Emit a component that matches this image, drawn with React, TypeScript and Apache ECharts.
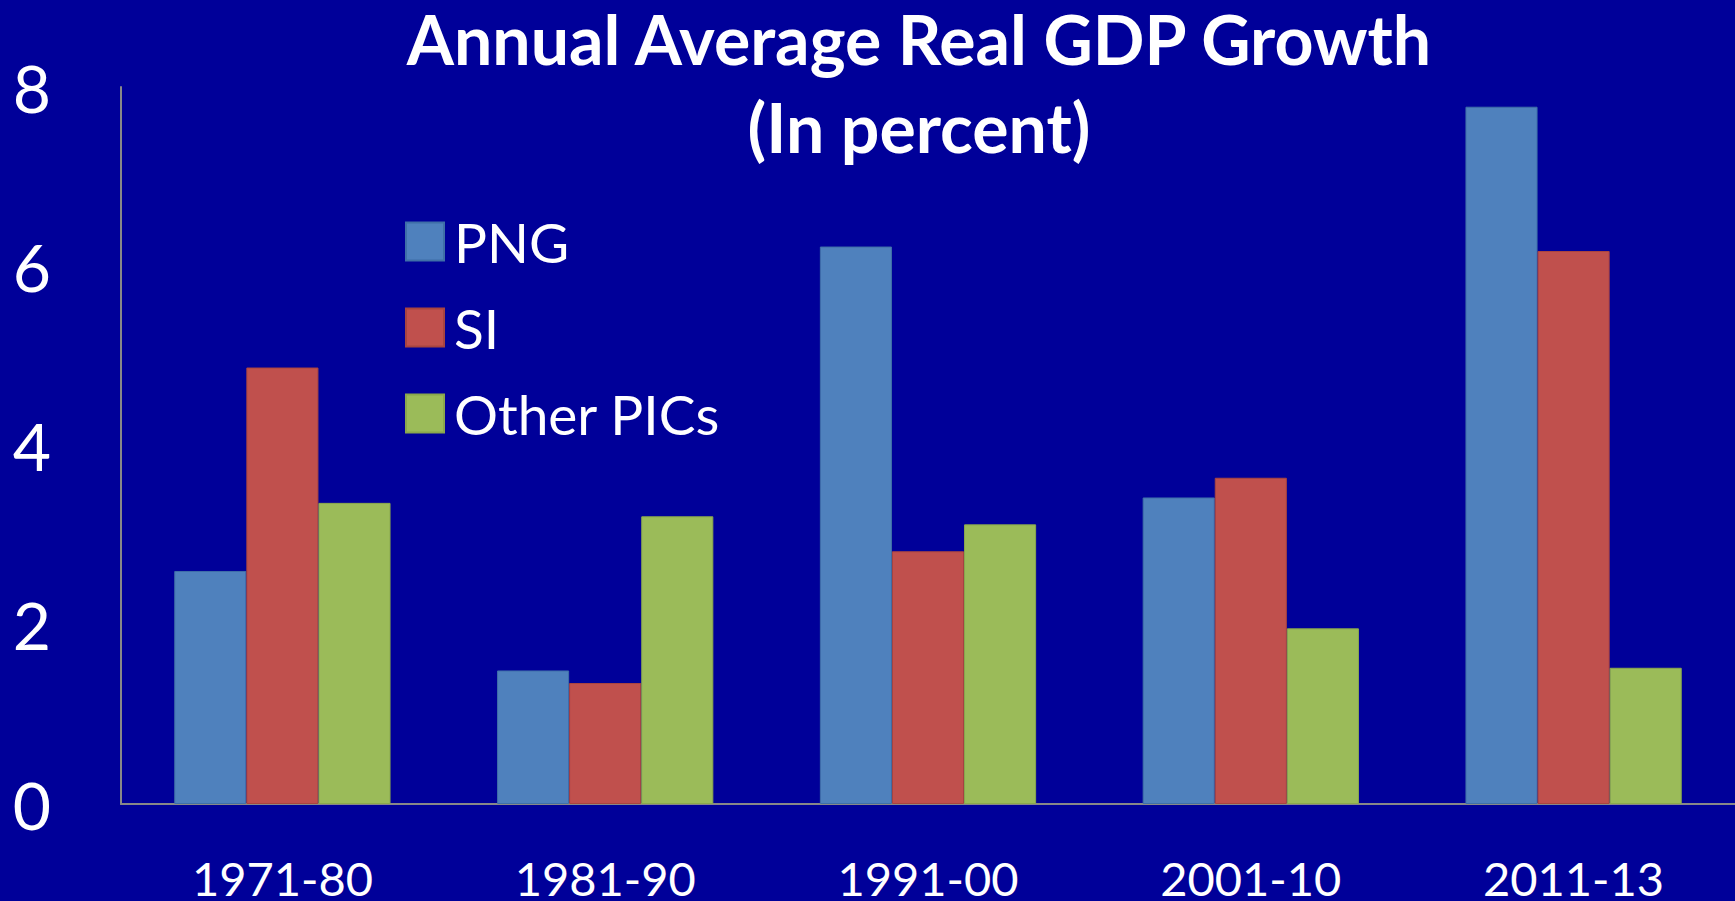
import React, { useEffect, useRef } from "react";
import * as echarts from "echarts";

const categories = ["1971-80", "1981-90", "1991-00", "2001-10", "2011-13"];
const pngValues = [2.6, 1.49, 6.22, 3.42, 7.78];
const siValues = [4.87, 1.35, 2.82, 3.64, 6.17];
const otherValues = [3.36, 3.21, 3.12, 1.96, 1.52];
const seriesNames = ["PNG", "SI", "Other PICs"];
const titleLine1 = "Annual Average Real GDP Growth";
const titleLine2 = "(In percent)";

const FONT = "Lato, 'Noto Sans', sans-serif";

export default function App() {
  const ref = useRef<HTMLDivElement>(null);
  useEffect(() => {
    if (!ref.current) return;
    const chart = echarts.init(ref.current, undefined, { renderer: "svg" });
    const barSeries = [pngValues, siValues, otherValues].map((d, i) => ({
      name: seriesNames[i],
      type: "bar",
      data: d,
      barGap: "0%",
      barCategoryGap: "33%",
      itemStyle: {
        color: ["#4F81BD", "#C0504D", "#9BBB59"][i],
        borderColor: ["#3F6FA8", "#A84440", "#8AA84D"][i],
        borderWidth: 1,
      },
    }));
    chart.setOption({
      animation: false,
      backgroundColor: "#000099",
      title: [
        {
          text: titleLine1,
          left: 914,
          top: -1,
          textAlign: "center",
          textStyle: { color: "#ffffff", fontFamily: FONT, fontWeight: "bold", fontSize: 68, lineHeight: 68 },
        },
        {
          text: titleLine2,
          left: 914,
          top: 87,
          textAlign: "center",
          textStyle: { color: "#ffffff", fontFamily: FONT, fontWeight: "bold", fontSize: 68, lineHeight: 68 },
        },
      ],
      legend: {
        orient: "vertical",
        left: 400,
        top: 209,
        itemWidth: 38,
        itemHeight: 38,
        itemGap: 31,
        icon: "rect",
        data: seriesNames,
        textStyle: { color: "#ffffff", fontFamily: FONT, fontSize: 55, lineHeight: 54, padding: [0, 0, 0, 5] },
      },
      grid: { left: 121, right: 0, top: 87, bottom: 91, containLabel: false },
      xAxis: {
        type: "category",
        data: categories,
        axisLine: { show: true, lineStyle: { color: "#888888", width: 2 } },
        axisTick: { show: false },
        axisLabel: { color: "#ffffff", fontFamily: FONT, fontSize: 47, margin: 50 },
      },
      yAxis: {
        type: "value",
        min: 0,
        max: 8,
        interval: 2,
        splitLine: { show: false },
        axisLine: { show: true, lineStyle: { color: "#888888", width: 2 } },
        axisTick: { show: false },
        axisLabel: { color: "#ffffff", fontFamily: FONT, fontSize: 66, margin: 70 },
      },
      series: barSeries,
    });
    return () => chart.dispose();
  }, []);
  return <div ref={ref} style={{ position: "fixed", left: 0, top: 0, width: 1735, height: 901 }} />;
}
